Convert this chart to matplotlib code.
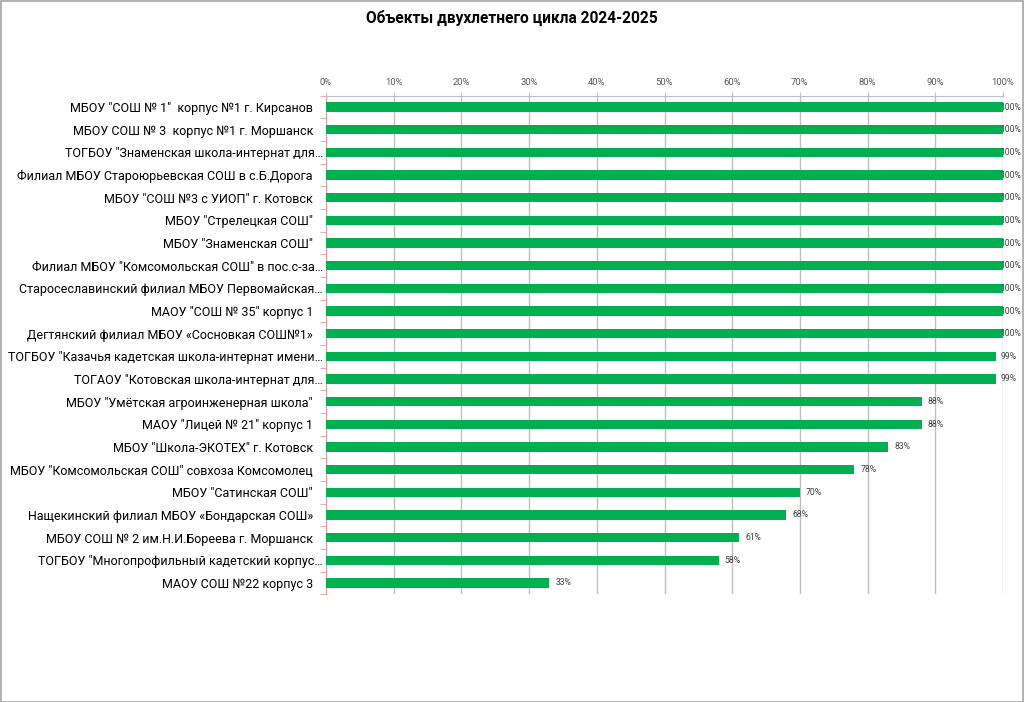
import matplotlib
matplotlib.use("Agg")
import matplotlib.pyplot as plt
from matplotlib.patches import Rectangle
from matplotlib.transforms import ScaledTranslation
import numpy as np

plt.rcParams['font.family'] = ['Roboto', 'DejaVu Sans']

title = "Объекты двухлетнего цикла 2024-2025"
categories = [
    'МБОУ "СОШ № 1"  корпус №1 г. Кирсанов',
    'МБОУ СОШ № 3  корпус №1 г. Моршанск',
    'ТОГБОУ "Знаменская школа-интернат для…',
    'Филиал МБОУ Староюрьевская СОШ в с.Б.Дорога',
    'МБОУ "СОШ №3 с УИОП" г. Котовск',
    'МБОУ "Стрелецкая СОШ"',
    'МБОУ "Знаменская СОШ"',
    'Филиал МБОУ "Комсомольская СОШ" в пос.с-за…',
    'Старосеславинский филиал МБОУ Первомайская…',
    'МАОУ "СОШ № 35" корпус 1',
    'Дегтянский филиал МБОУ «Сосновкая СОШ№1»',
    'ТОГБОУ "Казачья кадетская школа-интернат имени…',
    'ТОГАОУ "Котовская школа-интернат для…',
    'МБОУ "Умётская агроинженерная школа"',
    'МАОУ "Лицей № 21" корпус 1',
    'МБОУ "Школа-ЭКОТЕХ" г. Котовск',
    'МБОУ "Комсомольская СОШ" совхоза Комсомолец',
    'МБОУ "Сатинская СОШ"',
    'Нащекинский филиал МБОУ «Бондарская СОШ»',
    'МБОУ СОШ № 2 им.Н.И.Бореева г. Моршанск',
    'ТОГБОУ "Многопрофильный кадетский корпус…',
    'МАОУ СОШ №22 корпус 3',
]
values = [100, 100, 100, 100, 100, 100, 100, 100, 100, 100, 100,
          99, 99, 88, 88, 83, 78, 70, 68, 61, 58, 33]
x_ticks = [0, 10, 20, 30, 40, 50, 60, 70, 80, 90, 100]

W, H = 1024, 702
fig = plt.figure(figsize=(W / 100, H / 100), dpi=100)
fig.patch.set_facecolor('white')
fig.add_artist(Rectangle((0.5 / W, 0.5 / H), 1 - 1.5 / W, 1 - 1.5 / H,
                         transform=fig.transFigure, fill=False,
                         edgecolor='#A6A6A6', linewidth=1.2))

left, right = 326 / W, 1003 / W
top, bottom = 1 - 95.7 / H, 1 - 594.3 / H
ax = fig.add_axes([left, bottom, right - left, top - bottom])

y = np.arange(len(categories))
ax.barh(y, values, height=0.42, color='#00B050', zorder=3)
ax.set_xlim(0, 100)
ax.set_ylim(len(categories) - 0.5, -0.5)

ax.xaxis.tick_top()
ax.set_xticks(x_ticks)
ax.set_xticklabels([f"{t}%" for t in x_ticks], fontsize=6.8, color='#595959')
ax.tick_params(axis='x', length=3, color='#BFBFBF', pad=3)
ax.grid(axis='x', color='#BFBFBF', linewidth=1, zorder=0)

ax.set_yticks(y)
ax.set_yticklabels(categories, fontsize=9, color='#000000')
ax.tick_params(axis='y', which='major', length=0, pad=9.4)
ax.set_yticks(np.arange(len(categories) + 1) - 0.5, minor=True)
ax.tick_params(axis='y', which='minor', length=4, color='#D9A0A0')

shift = ScaledTranslation(10 / 100, 0, fig.dpi_scale_trans)
for lab in ax.get_yticklabels():
    if lab.get_text().endswith('…'):
        lab.set_transform(lab.get_transform() + shift)

for s in ['right', 'bottom']:
    ax.spines[s].set_visible(False)
ax.spines['left'].set_color('#D9A0A0')
ax.spines['top'].set_color('#BFBFBF')

for yi, v in zip(y, values):
    xpos = min(v + 0.9, 99.6)
    ax.text(xpos, yi, f"{v}%", va='center', ha='left', fontsize=6.2,
            color='#404040', zorder=4, clip_on=False)

fig.text(0.5, 1 - 18 / H, title, ha='center', va='center',
         fontsize=11.2, fontweight='bold', color='#000000')

fig.savefig('out.png', dpi=100)
